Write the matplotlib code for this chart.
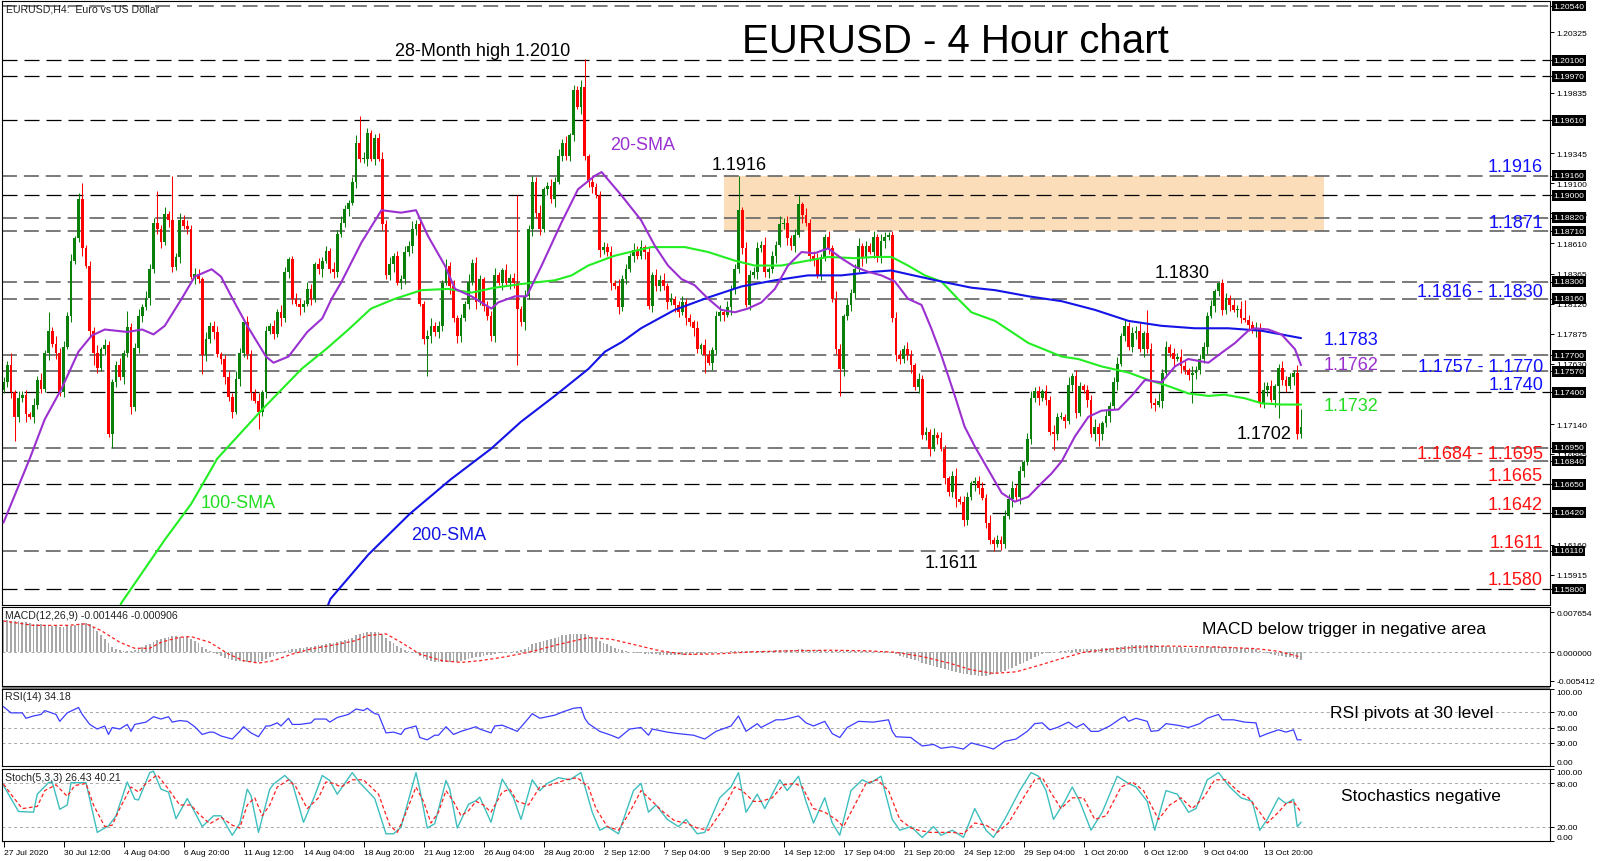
import numpy as np
import matplotlib
matplotlib.use("Agg")
import matplotlib.pyplot as plt
from matplotlib.patches import Rectangle

# ---------------- data (prices in pips: 11748 -> 1.1748) ----------------
close_pips = [
    11748, 11762, 11740, 11720, 11735, 11738, 11722, 11720, 11730, 11750,
    11743, 11772, 11790, 11779, 11772, 11740, 11777, 11802, 11847, 11865,
    11897, 11857, 11843, 11790, 11772, 11760, 11775, 11778, 11706, 11748,
    11762, 11752, 11772, 11793, 11728, 11776, 11802, 11809, 11817, 11840,
    11878, 11873, 11862, 11885, 11880, 11842, 11850, 11880, 11875, 11873,
    11834, 11836, 11832, 11770, 11783, 11794, 11789, 11771, 11767, 11752,
    11736, 11724, 11751, 11772, 11797, 11771, 11739, 11733, 11724, 11740,
    11790, 11794, 11787, 11805, 11800, 11838, 11848, 11816, 11812, 11809,
    11812, 11824, 11816, 11844, 11840, 11847, 11855, 11840, 11838, 11869,
    11878, 11889, 11894, 11911, 11943, 11930, 11930, 11951, 11930, 11947,
    11930, 11877, 11835, 11844, 11851, 11829, 11832, 11854, 11859, 11873,
    11877, 11812, 11783, 11786, 11794, 11789, 11794, 11829, 11843, 11826,
    11800, 11786, 11800, 11812, 11830, 11845, 11813, 11832, 11810, 11802,
    11786, 11835, 11829, 11839, 11829, 11833, 11829, 11808, 11797, 11818,
    11873, 11911, 11886, 11873, 11905, 11908, 11897, 11911, 11932, 11943,
    11932, 11949, 11986, 11972, 11988, 11932, 11911, 11907, 11900, 11856,
    11858, 11854, 11829, 11826, 11809, 11832, 11840, 11851, 11856, 11851,
    11858, 11854, 11810, 11835, 11826, 11831, 11826, 11813, 11816, 11811,
    11805, 11813, 11800, 11797, 11792, 11775, 11778, 11770, 11764, 11774,
    11802, 11805, 11803, 11809, 11824, 11840, 11888, 11857, 11811, 11835,
    11838, 11857, 11860, 11838, 11840, 11851, 11860, 11877, 11878, 11865,
    11859, 11868, 11893, 11884, 11878, 11851, 11848, 11835, 11850, 11866,
    11857, 11816, 11775, 11759, 11802, 11811, 11821, 11840, 11859, 11849,
    11859, 11854, 11866, 11849, 11863, 11866, 11868, 11800, 11770, 11767,
    11775, 11770, 11762, 11744, 11751, 11705, 11708, 11694, 11705, 11703,
    11694, 11670, 11659, 11672, 11653, 11651, 11636, 11655, 11666, 11668,
    11662, 11654, 11634, 11620, 11617, 11620, 11617, 11639, 11653, 11662,
    11655, 11676, 11683, 11702, 11735, 11741, 11735, 11741, 11734, 11708,
    11706, 11720, 11720, 11717, 11746, 11753, 11723, 11745, 11742, 11734,
    11706, 11712, 11706, 11715, 11721, 11729, 11748, 11763, 11786, 11794,
    11777, 11788, 11790, 11775, 11788, 11775, 11731, 11730, 11733, 11756,
    11777, 11772, 11767, 11769, 11761, 11758, 11754, 11756, 11758, 11767,
    11777, 11802, 11810, 11822, 11829, 11807, 11817, 11811, 11807, 11808,
    11800, 11799, 11795, 11791, 11792, 11731, 11742, 11745, 11734, 11745,
    11760, 11750, 11745, 11752, 11756, 11706, 11712,
]
first_open_pips = 11742

# small wick lengths (pips) per bar, one digit per bar
up_wick_digits = (
    "4352634253" "6243745352" "5434362543" "3625346354" "4536243645"
    "3542634523" "5364253462" "4253642354" "3642534263" "5324635423"
    "4536243546" "3425634253" "5342635324" "4632534625" "3546235463"
    "5243642534" "4352634253" "6243546352" "3534262543" "4625346354"
    "4536243645" "3542634523" "5364253462" "4253642354" "3642534263"
    "5324635423" "4536243546" "3425634253" "5342635324" "4632534625"
    "3546235463" "5243642534" "4352634253" "6243546352" "3534262"
)
low_wick_digits = (
    "3452436254" "4362534253" "3625443526" "4253634526" "3452643524"
    "2634536245" "3526345243" "5342635426" "4253462354" "3462534625"
    "2534625436" "5243635426" "3652435243" "4526354236" "2645353624"
    "3452634526" "4362534253" "3625443526" "4253634526" "3452643524"
    "2634536245" "3526345243" "5342635426" "4253462354" "3462534625"
    "2534625436" "5243635426" "3652435243" "4526354236" "2645353624"
    "3452634526" "4362534253" "3625443526" "4253634526" "3452643"
)
up_wick_big = {2: 10, 12: 15, 21: 13, 33: 13, 41: 26, 45: 36, 95: 22, 137: 71,
               155: 23, 196: 28, 212: 7, 305: 19, 324: 1, 331: 15, 346: 14}
low_wick_big = {3: 20, 24: 10, 29: 11, 53: 15, 68: 14, 113: 30, 137: 46, 187: 14,
                223: 22, 264: 6, 280: 13, 292: 10, 317: 23, 340: 26, 345: 4}

sma20_pts = [(0, 11634), (7, 11686), (11, 11718), (15.5, 11743), (20, 11773), (23.5, 11786),
             (27, 11791), (33, 11789), (37, 11791), (40, 11787), (43, 11794), (47.5, 11816),
             (51, 11834), (55.5, 11840), (58, 11834), (61.6, 11813), (65, 11794), (70, 11769),
             (72, 11764), (76, 11769), (81, 11789), (85, 11800), (87.5, 11816), (90, 11829),
             (95.5, 11862), (100.8, 11888), (106, 11886), (110, 11888), (113.2, 11867),
             (117.7, 11843), (120.4, 11824), (124.8, 11818), (130.1, 11808), (131.9, 11813),
             (136.4, 11818), (139.5, 11818), (143.5, 11843), (148.8, 11878), (153.2, 11905),
             (157.7, 11916), (159.5, 11919), (164.8, 11900), (170, 11880), (173.7, 11859),
             (177.2, 11843), (180.8, 11832), (184.3, 11827), (187.9, 11816), (191.4, 11807),
             (195, 11805), (198.5, 11808), (202.1, 11813), (205.7, 11824), (209.2, 11843),
             (212.8, 11854), (216.3, 11853), (219.9, 11857), (223.4, 11849), (227, 11842),
             (230.5, 11838), (234.1, 11835), (237.7, 11830), (241.2, 11816), (244.8, 11811),
             (247.4, 11792), (250.1, 11770), (253.7, 11737), (256.3, 11712), (259, 11696),
             (262.6, 11677), (266.2, 11658), (269.7, 11651), (273.3, 11655), (276.8, 11666),
             (279.5, 11674), (282.2, 11684), (285.7, 11704), (289.3, 11720), (292.8, 11725),
             (297.3, 11726), (300.8, 11737), (304.4, 11750), (308.8, 11748), (312.4, 11761),
             (315.9, 11767), (321.3, 11764), (324.8, 11772), (328.4, 11780), (331.9, 11790),
             (333.7, 11792), (337.3, 11791), (340.8, 11787), (344.4, 11775), (346, 11762)]
sma100_pts = [(28, 11545), (31.5, 11569), (43, 11620), (50, 11649), (54, 11670), (57, 11686),
              (69, 11726), (79.5, 11759), (86, 11775), (92, 11791), (98, 11808), (104.4, 11816),
              (111.5, 11823), (118.6, 11824), (124.8, 11821), (131, 11825), (138.1, 11828),
              (147, 11831), (151.5, 11835), (155.9, 11843), (163, 11851), (168.4, 11855),
              (172.8, 11858), (181.7, 11858), (187.9, 11854), (195, 11847), (200.3, 11843),
              (207.4, 11843), (214.5, 11847), (219.9, 11850), (227, 11849), (232.3, 11850),
              (236.8, 11850), (241.2, 11843), (245.7, 11835), (250.1, 11830), (254.5, 11816),
              (258.1, 11805), (264.4, 11798), (273.3, 11780), (282.2, 11769), (286.6, 11767),
              (292.8, 11761), (300, 11756), (305.3, 11750), (310.6, 11745), (316, 11739),
              (321.3, 11737), (325.7, 11738), (331.1, 11735), (335.5, 11731), (340.8, 11730),
              (346, 11730)]
sma200_pts = [(85, 11555), (87.2, 11572), (97.3, 11608), (108.3, 11641), (119.2, 11669),
              (130, 11694), (138, 11716), (147, 11737), (156, 11759), (160.4, 11773),
              (165, 11781), (170, 11792), (179, 11807), (187.9, 11817), (196.8, 11826),
              (205.7, 11831), (214.5, 11835), (223.4, 11835), (232.3, 11838), (236.8, 11839),
              (241.2, 11836), (250.1, 11830), (258.1, 11825), (264.4, 11823), (273.3, 11818),
              (282.2, 11814), (291, 11807), (300, 11798), (308.8, 11794), (317.7, 11792),
              (326.6, 11792), (335.5, 11790), (346, 11784)]

# MACD main (histogram) per bar, units of 1e-5
macd_main = [
    610, 605, 600, 595, 590, 585, 575, 560, 545, 540,
    530, 520, 510, 500, 495, 490, 490, 495, 500, 520,
    545, 560, 565, 540, 480, 400, 330, 260, 170, 110,
    70, 40, 30, 20, 20, 40, 70, 100, 130, 160,
    200, 230, 250, 270, 290, 310, 305, 300, 295, 290,
    260, 220, 170, 110, 60, 20, -10, -40, -70, -100,
    -130, -150, -160, -170, -175, -180, -185, -190, -180, -160,
    -120, -90, -60, -40, -10, 20, 50, 60, 70, 80,
    90, 100, 110, 120, 130, 140, 160, 170, 180, 190,
    210, 230, 250, 280, 320, 350, 370, 380, 390, 390,
    380, 350, 280, 220, 170, 120, 80, 50, 20, 0,
    -20, -60, -110, -150, -170, -180, -185, -190, -190, -190,
    -185, -175, -160, -140, -130, -110, -90, -80, -65, -55,
    -45, -30, -20, -15, -10, 0, 20, 30, 40, 70,
    110, 150, 180, 200, 220, 240, 260, 280, 300, 320,
    330, 340, 350, 355, 350, 340, 320, 290, 260, 220,
    180, 150, 120, 90, 60, 40, 20, 10, 0, -10,
    -20, -25, -30, -35, -40, -45, -50, -50, -55, -55,
    -55, -50, -50, -50, -45, -40, -35, -30, -20, -10,
    0, 5, 10, 15, 20, 25, 30, 35, 35, 30,
    30, 30, 30, 30, 30, 35, 40, 45, 50, 50,
    50, 50, 55, 55, 50, 50, 45, 40, 40, 40,
    35, 30, 25, 20, 20, 25, 30, 30, 30, 30,
    30, 30, 30, 25, 25, 20, 15, 0, -30, -60,
    -80, -100, -120, -150, -170, -200, -220, -240, -260, -270,
    -290, -310, -330, -350, -370, -390, -410, -420, -430, -435,
    -440, -440, -440, -435, -420, -400, -380, -350, -320, -290,
    -260, -230, -200, -160, -120, -90, -60, -40, -20, -10,
    0, 10, 20, 30, 40, 50, 55, 60, 65, 70,
    70, 70, 70, 75, 80, 85, 90, 100, 110, 120,
    125, 130, 135, 140, 140, 140, 135, 130, 125, 120,
    115, 110, 105, 100, 95, 90, 90, 90, 90, 95,
    100, 105, 110, 115, 115, 110, 105, 100, 95, 90,
    85, 80, 75, 70, 60, 30, 0, -20, -40, -55,
    -65, -75, -85, -95, -105, -130, -145,
]
macd_signal_pts = [(0, 595), (8, 512), (17, 512), (22, 542), (26, 415), (31, 191), (35, 77),
                   (39, 77), (42, 191), (47, 287), (50, 300), (55, 191), (60, -32), (64, -159),
                   (68, -204), (72, -159), (77, -32), (82, 64), (88, 140), (94, 223), (97, 319),
                   (102, 351), (106, 191), (111, -32), (117, -159), (122, -191), (127, -159),
                   (133, -95), (140, 0), (148, 150), (156, 280), (162, 250), (168, 150),
                   (175, 30), (182, -40), (190, -30), (200, 10), (210, 30), (220, 40), (230, 30),
                   (238, 0), (245, -80), (252, -200), (258, -330), (264, -400), (270, -370),
                   (276, -250), (282, -120), (288, 0), (295, 60), (303, 100), (310, 120),
                   (318, 110), (326, 95), (334, 70), (340, 20), (346, -91)]

rsi_pts = [(0, 77), (2, 69), (5, 69), (6, 62), (8, 65), (10, 67), (11, 72), (14, 67), (15, 58),
           (17, 69), (20, 76), (21, 67), (23, 54), (25, 48), (27, 52), (28, 41), (29, 50),
           (31, 48), (33, 54), (34, 45), (35, 54), (38, 57), (40, 64), (42, 61), (44, 64),
           (45, 57), (47, 59), (49, 58), (51, 51), (53, 41), (55, 44), (56, 44), (58, 39),
           (61, 35), (63, 45), (64, 51), (66, 43), (68, 38), (70, 52), (71, 52), (73, 56),
           (74, 52), (76, 62), (77, 54), (79, 54), (82, 56), (83, 61), (86, 61), (87, 57),
           (89, 63), (92, 67), (94, 74), (96, 72), (97, 75), (99, 68), (100, 67), (102, 43),
           (104, 44), (106, 41), (107, 48), (110, 52), (111, 37), (113, 34), (115, 40),
           (116, 40), (118, 51), (120, 41), (122, 45), (124, 48), (126, 51), (127, 48),
           (130, 43), (131, 52), (133, 53), (137, 45), (140, 62), (141, 68), (143, 62),
           (147, 66), (149, 70), (152, 75), (154, 76), (155, 62), (156, 55), (159, 45),
           (162, 40), (164, 36), (167, 48), (170, 50), (172, 40), (173, 48), (177, 44),
           (180, 42), (184, 40), (187, 35), (190, 45), (194, 52), (196, 65), (197, 55),
           (198, 45), (201, 55), (202, 50), (206, 60), (208, 60), (212, 65), (214, 56),
           (216, 52), (219, 58), (221, 42), (223, 37), (225, 50), (228, 58), (232, 57),
           (236, 60), (237, 45), (238, 38), (242, 37), (243, 33), (245, 26), (248, 28),
           (250, 23), (253, 25), (256, 22), (258, 30), (262, 25), (264, 22), (267, 32),
           (270, 35), (273, 45), (275, 55), (277, 56), (279, 47), (281, 50), (284, 57),
           (286, 50), (288, 55), (290, 45), (292, 45), (295, 52), (298, 62), (299, 64),
           (300, 58), (302, 62), (305, 58), (306, 45), (308, 46), (310, 55), (313, 53),
           (316, 50), (319, 55), (321, 62), (324, 67), (325, 60), (328, 60), (331, 57),
           (334, 56), (335, 38), (337, 42), (340, 47), (342, 44), (344, 47), (345, 34),
           (346, 34)]

stoch_k_pts = [(0, 77), (4, 41), (8, 40), (9, 65), (12, 81), (13, 82), (15, 44), (17, 50),
               (18, 81), (22, 81), (25, 12), (28, 21), (30, 35), (33, 82), (35, 58), (36, 57),
               (39, 95), (40, 97), (42, 72), (44, 68), (46, 31), (49, 59), (51, 40), (53, 20),
               (56, 35), (58, 35), (61, 8), (63, 24), (65, 72), (66, 63), (68, 12), (71, 72),
               (72, 79), (75, 91), (77, 81), (80, 26), (83, 63), (85, 91), (87, 84), (89, 65),
               (93, 95), (95, 81), (99, 59), (102, 10), (104, 10), (106, 19), (110, 95),
               (111, 72), (113, 18), (115, 24), (118, 84), (119, 72), (121, 18), (124, 51),
               (126, 56), (127, 61), (130, 26), (133, 86), (136, 60), (138, 30), (141, 85),
               (143, 70), (145, 80), (148, 88), (151, 85), (154, 95), (157, 40), (159, 15),
               (161, 20), (164, 10), (168, 70), (170, 80), (172, 40), (174, 50), (177, 30),
               (180, 20), (182, 30), (185, 10), (187, 12), (191, 60), (194, 75), (196, 95),
               (198, 40), (201, 65), (203, 45), (207, 85), (209, 70), (212, 90), (214, 55),
               (216, 25), (219, 60), (221, 25), (223, 8), (226, 70), (229, 85), (231, 80),
               (234, 90), (237, 30), (239, 15), (242, 20), (245, 5), (248, 20), (250, 8),
               (253, 15), (256, 5), (259, 45), (262, 15), (264, 5), (267, 30), (271, 70),
               (274, 95), (276, 90), (278, 70), (280, 30), (283, 55), (285, 75), (287, 55),
               (290, 15), (293, 40), (297, 90), (300, 80), (302, 75), (305, 55), (307, 15),
               (310, 70), (313, 65), (316, 40), (318, 45), (321, 85), (324, 95), (327, 75),
               (330, 60), (333, 55), (335, 15), (337, 30), (340, 60), (342, 52), (344, 58),
               (345, 20), (346, 26)]
stoch_d_pts = [(0, 79), (2, 65), (5, 45), (9, 48), (11, 70), (14, 78), (17, 62), (19, 77),
               (22, 80), (24, 50), (27, 20), (29, 22), (31, 45), (34, 75), (36, 68), (38, 80),
               (41, 92), (44, 72), (47, 50), (50, 50), (52, 38), (55, 24), (58, 33), (61, 22),
               (63, 18), (65, 50), (67, 60), (69, 35), (71, 50), (73, 75), (76, 85), (78, 75),
               (81, 45), (84, 60), (86, 82), (88, 80), (90, 75), (93, 85), (96, 85), (100, 65),
               (103, 22), (105, 12), (107, 35), (110, 75), (112, 55), (114, 25), (116, 40),
               (118, 70), (120, 55), (122, 35), (124, 42), (126, 55), (128, 50), (130, 40),
               (133, 68), (135, 72), (137, 55), (140, 50), (143, 75), (146, 78), (150, 85),
               (153, 88), (156, 75), (158, 45), (161, 20), (164, 15), (167, 40), (170, 70),
               (173, 55), (176, 40), (179, 28), (182, 25), (185, 18), (188, 15), (192, 45),
               (195, 75), (197, 70), (200, 55), (202, 55), (205, 60), (208, 78), (211, 80),
               (213, 75), (216, 45), (219, 40), (222, 30), (224, 20), (227, 50), (230, 80),
               (233, 85), (236, 70), (239, 30), (242, 18), (244, 15), (247, 12), (250, 12),
               (253, 12), (256, 10), (259, 25), (262, 22), (265, 12), (268, 25), (272, 60),
               (275, 85), (277, 88), (279, 70), (282, 45), (285, 60), (288, 60), (291, 30),
               (294, 35), (298, 75), (301, 82), (304, 70), (306, 50), (308, 30), (311, 50),
               (314, 60), (317, 45), (320, 60), (323, 85), (326, 85), (329, 70), (332, 60),
               (335, 40), (337, 25), (340, 40), (342, 52), (344, 55), (346, 40)]

level_prices = [1.2054, 1.2010, 1.1997, 1.1961, 1.1916, 1.1900, 1.1882, 1.1871, 1.1830,
                1.1816, 1.1770, 1.1757, 1.1740, 1.1695, 1.1684, 1.1665, 1.1642, 1.1611, 1.1580]
level_is_gray = [True, False, False, False, True, False, True, True, True, True, True, True,
                 False, True, True, False, False, True, False]
axis_ticks = [1.20325, 1.19835, 1.19345, 1.19100, 1.18855, 1.18610, 1.18365, 1.18120,
              1.17875, 1.17630, 1.17140, 1.16895, 1.16160, 1.15915]
zone_low, zone_high = 1.1871, 1.1916
zone_bars = (192, 352)

time_labels = ["27 Jul 2020", "30 Jul 12:00", "4 Aug 04:00", "6 Aug 20:00", "11 Aug 12:00",
               "14 Aug 04:00", "18 Aug 20:00", "21 Aug 12:00", "26 Aug 04:00", "28 Aug 20:00",
               "2 Sep 12:00", "7 Sep 04:00", "9 Sep 20:00", "14 Sep 12:00", "17 Sep 04:00",
               "21 Sep 20:00", "24 Sep 12:00", "29 Sep 04:00", "1 Oct 20:00", "6 Oct 12:00",
               "9 Oct 04:00", "13 Oct 20:00"]
time_label_bars = [0, 16, 32, 48, 64, 80, 96, 112, 128, 144, 160, 176, 192, 208, 224, 240,
                   256, 272, 288, 304, 320, 336]

# ---------------- figure ----------------
W, H = 1600, 862
fig = plt.figure(figsize=(W / 100, H / 100), dpi=100)
fig.patch.set_facecolor("white")


def rect(top, bot):
    return [2 / W, 1 - bot / H, 1548 / W, (bot - top) / H]


ax = fig.add_axes(rect(2, 606))
axm = fig.add_axes(rect(608, 687))
axr = fig.add_axes(rect(690, 767))
axs = fig.add_axes(rect(770, 842))
XL = (-0.4, 412.4)
SANS = "Liberation Sans"
SMALL = 6.1
LABEL = 7.6

for a in (ax, axm, axr, axs):
    a.set_xlim(*XL)
    for sp in a.spines.values():
        sp.set_color("black")
        sp.set_linewidth(0.8)
    a.yaxis.tick_right()
    a.tick_params(axis="y", length=3, width=0.7, pad=1.5, labelsize=SMALL, direction="out")
for a in (ax, axm, axr):
    a.set_xticks([])

# ---- main price panel ----
ax.set_ylim(1.15670, 1.20581)
c = np.array(close_pips) / 1e4
o = np.concatenate([[first_open_pips / 1e4], c[:-1]])
uw = np.array([int(ch) for ch in up_wick_digits], dtype=float)
lw_ = np.array([int(ch) for ch in low_wick_digits], dtype=float)
for k, v in up_wick_big.items():
    uw[k] = v
for k, v in low_wick_big.items():
    lw_[k] = v
hi = np.maximum(o, c) + uw / 1e4
lo = np.minimum(o, c) - lw_ / 1e4
xb = np.arange(len(c))
bull = c >= o
GREEN, RED = "#0A7F0A", "#FF0000"
cols = np.where(bull, GREEN, RED)

ax.add_patch(Rectangle((zone_bars[0], zone_low), zone_bars[1] - zone_bars[0], zone_high - zone_low,
                       facecolor="#FCDDBA", edgecolor="none", zorder=0))
for p, g in zip(level_prices, level_is_gray):
    if g:
        ax.axhline(p, color="#6A6A6A", lw=1.25, ls=(0, (8.6, 4.0)), zorder=1)
    else:
        ax.axhline(p, color="#000000", lw=0.9, ls=(0, (12.0, 5.6)), zorder=1)

ax.vlines(xb, lo, hi, colors=cols, lw=0.75, zorder=2)
body = np.maximum(np.abs(c - o), 0.00006)
ax.bar(xb, body, bottom=np.minimum(o, c), width=0.72, color=cols, linewidth=0, zorder=2.1)

for pts, col in ((sma100_pts, "#22EE22"), (sma200_pts, "#1414E6"), (sma20_pts, "#9B30D0")):
    bx = [q[0] for q in pts]
    by = [q[1] / 1e4 for q in pts]
    ax.plot(bx, by, color=col, lw=1.5, zorder=3, solid_capstyle="round")

ax.set_yticks(axis_ticks + level_prices)
ax.set_yticklabels([f"{v:.5f}" for v in axis_ticks] + [""] * len(level_prices), family=SANS)
for p in level_prices:
    ax.text(1.0 + 3.5 / 1548, p, f"{p:.5f}", transform=ax.get_yaxis_transform(), color="white",
            fontsize=SMALL, family=SANS, va="center", ha="left", zorder=10, clip_on=False,
            bbox=dict(boxstyle="square,pad=0.22", fc="black", ec="none"))

# ---- MACD ----
axm.set_ylim(-0.00639, 0.00861)
axm.bar(xb, np.array(macd_main) / 1e5, width=0.45, color="#A8A8A8", linewidth=0, zorder=2)
axm.plot([q[0] for q in macd_signal_pts], [q[1] / 1e5 for q in macd_signal_pts],
         color="#FF2020", lw=0.9, ls=(0, (2.5, 2.0)), zorder=3)
axm.axhline(0, color="#A8A8A8", lw=0.7, ls=(0, (3, 3)), zorder=1)
axm.set_yticks([0.007654, 0.0, -0.005412])
axm.set_yticklabels(["0.007654", "0.000000", "-0.005412"], family=SANS)

# ---- RSI ----
axr.set_ylim(0, 100)
for lvl in (70, 50, 30):
    axr.axhline(lvl, color="#A8A8A8", lw=0.7, ls=(0, (3, 3)), zorder=1)
axr.plot([q[0] for q in rsi_pts], [q[1] for q in rsi_pts], color="#3C3CFF", lw=0.9, zorder=3)
axr.set_yticks([100, 70, 50, 30, 0])
axr.set_yticklabels(["100.00", "70.00", "50.00", "30.00", "0.00"], family=SANS)
labs = axr.get_yticklabels()
labs[0].set_va("top")
labs[-1].set_va("bottom")

# ---- Stochastic ----
axs.set_ylim(0, 100)
for lvl in (80, 20):
    axs.axhline(lvl, color="#A8A8A8", lw=0.7, ls=(0, (3, 3)), zorder=1)
axs.plot([q[0] for q in stoch_k_pts], [q[1] for q in stoch_k_pts], color="#3EBEBE", lw=1.0, zorder=3)
axs.plot([q[0] for q in stoch_d_pts], [q[1] for q in stoch_d_pts], color="#FF2020", lw=0.9,
         ls=(0, (3, 2)), zorder=4)
axs.set_yticks([100, 80, 20, 0])
axs.set_yticklabels(["100.00", "80.00", "20.00", "0.00"], family=SANS)
labs = axs.get_yticklabels()
labs[0].set_va("top")
labs[-1].set_va("bottom")
axs.set_xticks(time_label_bars)
axs.set_xticklabels(time_labels, family=SANS, fontsize=SMALL)
for lab in axs.get_xticklabels():
    lab.set_ha("left")
axs.tick_params(axis="x", length=4, width=0.7, pad=2, direction="out")

# separator between MACD and RSI panels
fig.patches.append(Rectangle((2 / W, 1 - 690 / H), 1548 / W, 2.5 / H, transform=fig.transFigure,
                             facecolor="#7A7A7A", edgecolor="none"))


# ---------------- texts ----------------
def ftxt(x, y, s, **kw):
    kw.setdefault("family", SANS)
    fig.text(x / W, 1 - y / H, s, **kw)


ftxt(955, 53, "EURUSD - 4 Hour chart", ha="center", va="baseline", fontsize=29)
ftxt(6, 9, "EURUSD,H4:  Euro vs US Dollar", ha="left", va="center", fontsize=LABEL, color="#222222")
ftxt(5, 616.5, "MACD(12,26,9) -0.001446 -0.000906", ha="left", va="center", fontsize=LABEL, color="#222222")
ftxt(5, 697, "RSI(14) 34.18", ha="left", va="center", fontsize=LABEL, color="#222222")
ftxt(5, 778, "Stoch(5,3,3) 26.43 40.21", ha="left", va="center", fontsize=LABEL, color="#222222")

BIG = 13
ftxt(395, 55.5, "28-Month high 1.2010", ha="left", va="baseline", fontsize=BIG)
ftxt(712, 170, "1.1916", ha="left", va="baseline", fontsize=BIG)
ftxt(1155, 278, "1.1830", ha="left", va="baseline", fontsize=BIG)
ftxt(925, 568, "1.1611", ha="left", va="baseline", fontsize=BIG)
ftxt(1237, 439, "1.1702", ha="left", va="baseline", fontsize=BIG)
ftxt(610, 150, "20-SMA", ha="left", va="baseline", fontsize=BIG, color="#9B30D0")
ftxt(201, 508, "100-SMA", ha="left", va="baseline", fontsize=BIG, color="#22DD22")
ftxt(411, 540, "200-SMA", ha="left", va="baseline", fontsize=BIG, color="#1414E6")

BLUE, REDT = "#1010FF", "#FF1010"
for s, yb in (("1.1916", 171.5), ("1.1871", 228), ("1.1816 - 1.1830", 297),
              ("1.1757 - 1.1770", 371.5), ("1.1740", 390.5)):
    ftxt(1543, yb, s, ha="right", va="baseline", fontsize=BIG, color=BLUE)
for s, yb in (("1.1684 - 1.1695", 459), ("1.1665", 481.5), ("1.1642", 510),
              ("1.1611", 548), ("1.1580", 585)):
    ftxt(1543, yb, s, ha="right", va="baseline", fontsize=BIG, color=REDT)
ftxt(1324, 345, "1.1783", ha="left", va="baseline", fontsize=BIG, color=BLUE)
ftxt(1324, 370, "1.1762", ha="left", va="baseline", fontsize=BIG, color="#9B30D0")
ftxt(1324, 411.5, "1.1732", ha="left", va="baseline", fontsize=BIG, color="#22DD22")

ftxt(1202, 634, "MACD below trigger in negative area", ha="left", va="baseline", fontsize=12.5)
ftxt(1330, 718, "RSI pivots at 30 level", ha="left", va="baseline", fontsize=12.5)
ftxt(1341, 801, "Stochastics negative", ha="left", va="baseline", fontsize=12.5)

fig.savefig("out.png", dpi=100)
